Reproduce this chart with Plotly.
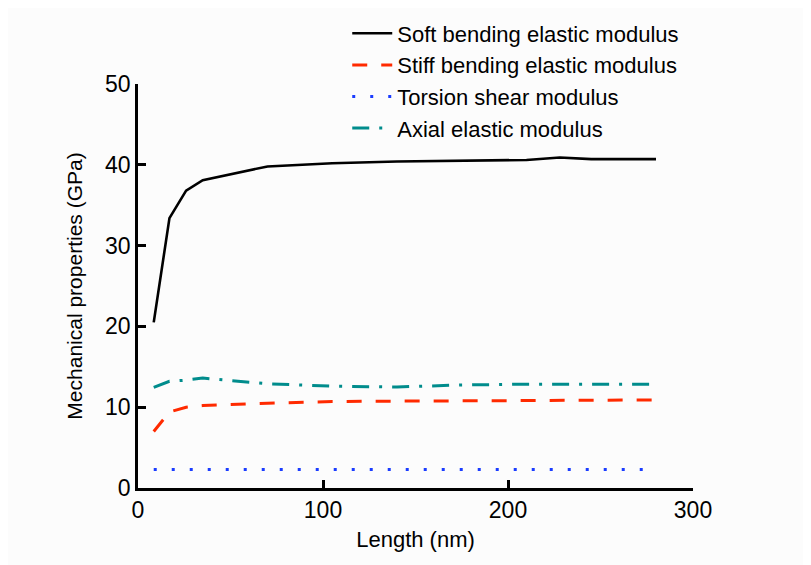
import plotly.graph_objects as go

length_nm = [8.5, 17, 26, 35, 70, 105, 140, 175, 210, 228, 245, 280]
soft_bending = [20.5, 33.4, 36.8, 38.1, 39.8, 40.2, 40.4, 40.5, 40.6, 40.9, 40.7, 40.7]
stiff_bending = [7.0, 9.4, 10.0, 10.2, 10.5, 10.7, 10.75, 10.8, 10.85, 10.9, 10.9, 10.9]
torsion_shear = [2.3, 2.3, 2.3, 2.25, 2.3, 2.3, 2.3, 2.3, 2.3, 2.3, 2.3, 2.3]
axial_elastic = [12.45, 13.2, 13.35, 13.6, 12.9, 12.6, 12.5, 12.75, 12.85, 12.85, 12.85, 12.85]

series_names = ["Soft bending elastic modulus", "Stiff bending elastic modulus",
                "Torsion shear modulus", "Axial elastic modulus"]

font_family = "Liberation Sans, Arial, sans-serif"

fig = go.Figure()
fig.add_trace(go.Scatter(x=length_nm, y=soft_bending, mode="lines", name=series_names[0],
                         line=dict(color="black", width=2.6)))
fig.add_trace(go.Scatter(x=length_nm, y=stiff_bending, mode="lines", name=series_names[1],
                         line=dict(color="#ff2a00", width=3, dash="15px,14px")))
fig.add_trace(go.Scatter(x=length_nm, y=torsion_shear, mode="lines", name=series_names[2],
                         line=dict(color="#1a3cff", width=3, dash="3px,15px")))
fig.add_trace(go.Scatter(x=length_nm, y=axial_elastic, mode="lines", name=series_names[3],
                         line=dict(color="#008c8c", width=3, dash="17px,10px,3px,10px")))

axis_common = dict(showgrid=False, zeroline=False, showline=True, linecolor="black", linewidth=2.5,
                   ticks="inside", ticklen=8, tickwidth=2.5, tickcolor="black",
                   tickfont=dict(family=font_family, size=23, color="black"))

fig.update_layout(
    width=811, height=565,
    margin=dict(l=130, r=126, t=76, b=85, autoexpand=False),
    paper_bgcolor="#fcfcfc", plot_bgcolor="#fcfcfc",
    font=dict(family=font_family, size=22, color="black"),
    xaxis=dict(range=[0, 300], tickvals=[0, 100, 200, 300],
               title=dict(text="Length (nm)", font=dict(size=22), standoff=10), **axis_common),
    yaxis=dict(range=[0, 50], tickvals=[0, 10, 20, 30, 40, 50],
               title=dict(text="Mechanical properties (GPa)", font=dict(size=21), standoff=17), **axis_common),
    legend=dict(x=0.377, y=1.177, xanchor="left", yanchor="top", bgcolor="rgba(0,0,0,0)",
                font=dict(size=22), tracegroupgap=0, itemwidth=40),
)

fig.write_html("out.html")
